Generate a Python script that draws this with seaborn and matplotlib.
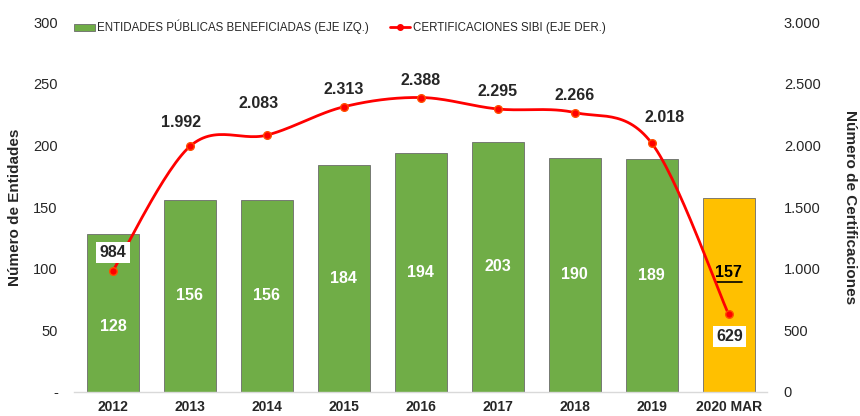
import numpy as np
import pandas as pd
import matplotlib
matplotlib.use("Agg")
import matplotlib.pyplot as plt
import seaborn as sns
from matplotlib.patches import Patch
from matplotlib.lines import Line2D
from matplotlib.ticker import FixedLocator

categories = ["2012", "2013", "2014", "2015", "2016", "2017", "2018", "2019", "2020 MAR"]
entidades = [128, 156, 156, 184, 194, 203, 190, 189, 157]
certificaciones = [984, 1992, 2083, 2313, 2388, 2295, 2266, 2018, 629]
cert_labels = ["984", "1.992", "2.083", "2.313", "2.388", "2.295", "2.266", "2.018", "629"]
left_ticks = [0, 50, 100, 150, 200, 250, 300]
left_tick_labels = ["-", "50", "100", "150", "200", "250", "300"]
right_ticks = [0, 500, 1000, 1500, 2000, 2500, 3000]
right_tick_labels = ["0", "500", "1.000", "1.500", "2.000", "2.500", "3.000"]

GREEN = "#70AD47"
GOLD = "#FFC000"
RED = "#FF0000"

sns.set_theme(style="white")
plt.rcParams["font.family"] = ["Liberation Sans", "DejaVu Sans"]

fig = plt.figure(figsize=(8.6, 4.16), dpi=100)
ax = fig.add_axes([0.0866, 0.0577, 0.8054, 0.8893])

df = pd.DataFrame({"cat": categories, "val": entidades})
palette = [GREEN] * (len(categories) - 1) + [GOLD]
sns.barplot(data=df, x="cat", y="val", hue="cat", palette=palette, legend=False,
            width=0.675, edgecolor="#6b6b6b", linewidth=0.6, ax=ax, saturation=1)

ax.set_ylim(0, 300)
ax.set_xlim(-0.5, len(categories) - 0.5)
ax.yaxis.set_major_locator(FixedLocator(left_ticks))
ax.set_yticklabels(left_tick_labels, fontsize=10.5)
ax.set_xlabel("")
ax.set_ylabel("Número de Entidades", fontsize=11, fontweight="bold", labelpad=8)
ax.tick_params(axis="x", length=0, pad=6)
ax.tick_params(axis="y", length=0, pad=12)
for lab in ax.get_xticklabels():
    lab.set_fontweight("bold")
    lab.set_fontsize(10)
for s in ["top", "left", "right"]:
    ax.spines[s].set_visible(False)
ax.spines["bottom"].set_color("#d9d9d9")
ax.spines["bottom"].set_linewidth(1)

# bar labels
label_y_override = {0: 53, 8: 97}
for i, v in enumerate(entidades):
    y = label_y_override.get(i, v / 2)
    if i == len(entidades) - 1:
        ax.text(i, y, str(v), ha="center", va="center", fontsize=11.5,
                fontweight="bold", color="black")
        ax.plot([i - 0.17, i + 0.17], [y - 8, y - 8], color="black", lw=1.2)
    else:
        ax.text(i, y, str(v), ha="center", va="center", fontsize=11.5,
                fontweight="bold", color="white")

# secondary axis
ax2 = ax.twinx()
ax2.set_position(ax.get_position())
ax2.set_ylim(0, 3000)
ax2.yaxis.set_major_locator(FixedLocator(right_ticks))
ax2.set_yticklabels(right_tick_labels, fontsize=10.5)
ax2.tick_params(axis="y", length=0, pad=12)
ax2.set_ylabel("Número de Certificaciones", fontsize=11, fontweight="bold",
               rotation=-90, labelpad=26)
for s in ["top", "left", "right", "bottom"]:
    ax2.spines[s].set_visible(False)
ax2.grid(False)
ax.grid(False)

# smooth line (Bezier smoothing like Excel)
xs = np.arange(len(certificaciones), dtype=float)
ys = np.array(certificaciones, dtype=float)
px = np.concatenate([[xs[0]], xs, [xs[-1]]])
py = np.concatenate([[ys[0]], ys, [ys[-1]]])
cx, cy = [], []
t = np.linspace(0, 1, 30)
for i in range(len(xs) - 1):
    p0 = np.array([px[i], py[i]])
    p1 = np.array([px[i + 1], py[i + 1]])
    p2 = np.array([px[i + 2], py[i + 2]])
    p3 = np.array([px[i + 3], py[i + 3]])
    c1 = p1 + (p2 - p0) / 6
    c2 = p2 - (p3 - p1) / 6
    b = ((1 - t) ** 3)[:, None] * p1 + (3 * (1 - t) ** 2 * t)[:, None] * c1 + \
        (3 * (1 - t) * t ** 2)[:, None] * c2 + (t ** 3)[:, None] * p2
    cx.extend(b[:, 0]); cy.extend(b[:, 1])
ax2.plot(cx, cy, color=RED, lw=2, zorder=3)
ax2.plot(xs, ys, "o", color=RED, mec="#FF5000", ms=5.5, zorder=4)

# label offsets in pixels (dx, dy up)
offsets_px = [(0, 18), (-9, 24), (-8, 32), (0, 17), (0, 17), (0, 17), (0, 17), (13, 26), (1, -22)]
for i, (v, lab) in enumerate(zip(certificaciones, cert_labels)):
    dx, dy = offsets_px[i]
    boxed = i in (0, len(certificaciones) - 1)
    kw = dict(bbox=dict(boxstyle="square,pad=0.2", fc="white", ec="none")) if boxed else {}
    ax2.annotate(lab, (i, v), xytext=(dx * 0.72, dy * 0.72), textcoords="offset points",
                 ha="center", va="center", fontsize=11.5, fontweight="bold", zorder=5, **kw)

handles = [Patch(facecolor=GREEN, edgecolor="#6b6b6b", linewidth=0.6),
           Line2D([0], [0], color=RED, lw=2, marker="o", ms=4)]
fig.legend(handles, ["ENTIDADES PÚBLICAS BENEFICIADAS (EJE IZQ.)",
                     "CERTIFICACIONES SIBI (EJE DER.)"],
           loc="center left", bbox_to_anchor=(66 / 860, 1 - 27 / 416), ncol=2, frameon=False,
           fontsize=8.3, handlelength=1.8, handletextpad=0.2, columnspacing=1.8,
           handleheight=0.6, borderpad=0.2)

fig.savefig("out.png", dpi=100)
